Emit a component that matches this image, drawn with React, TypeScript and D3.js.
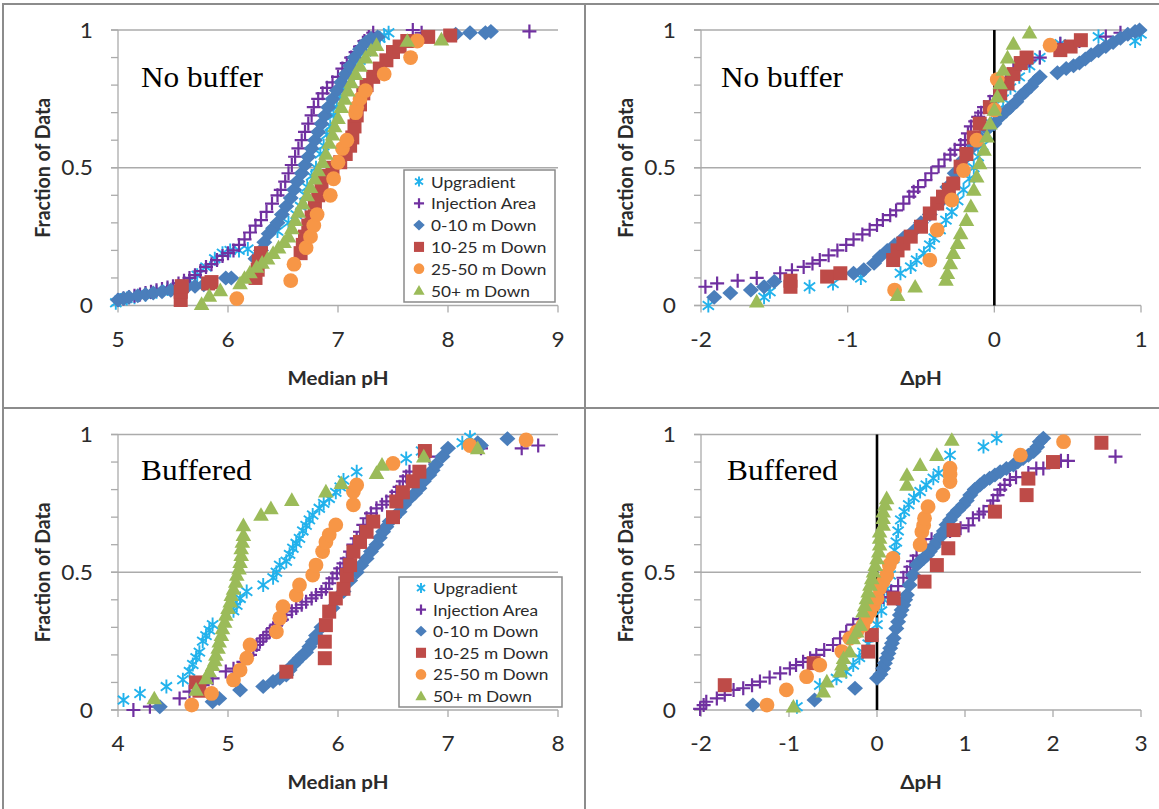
import React from 'react';
import * as d3 from 'd3';

type Pt = [number, number];

// ---------- series meta ----------
const SERIES_NAMES = ['Upgradient', 'Injection Area', '0-10 m Down', '10-25 m Down', '25-50 m Down', '50+ m Down'];
const SERIES_COLORS = ['#22b2ec', '#7030a0', '#4a7ebb', '#be4b48', '#f79646', '#9bbb59'];
const SERIES_SHAPES = ['star', 'plus', 'diamond', 'square', 'circle', 'triangle'];

const Y_TICK_VALUES = [0, 0.5, 1];
const Y_TICK_LABELS = ['0', '0.5', '1'];
const Y_MINOR_TICKS = [0, 0.1, 0.2, 0.3, 0.4, 0.5, 0.6, 0.7, 0.8, 0.9, 1];

const NB_MEDIAN_TICKS = [5, 6, 7, 8, 9];
const NB_DELTA_TICKS = [-2, -1, 0, 1];
const BUF_MEDIAN_TICKS = [4, 5, 6, 7, 8];
const BUF_DELTA_TICKS = [-2, -1, 0, 1, 2, 3];

const PANEL_LABELS = ['No buffer', 'No buffer', 'Buffered', 'Buffered'];
const X_TITLES = ['Median pH', '\u0394pH', 'Median pH', '\u0394pH'];
const Y_TITLE = 'Fraction of Data';

// ---------- Panel 1: No buffer, Median pH ----------
const nbMedUpgradient: Pt[] = [[4.98,0.01],[5.02,0.02],[5.08,0.025],[5.15,0.03],[5.25,0.04],[5.35,0.05],[5.45,0.06],[5.55,0.07],[5.65,0.09],[5.72,0.11],[5.8,0.14],[5.88,0.17],[5.95,0.19],[6.02,0.2],[6.1,0.2],[6.18,0.205],[6.45,0.27],[6.55,0.3],[6.62,0.33],[6.66,0.36],[6.7,0.4],[6.72,0.43],[6.76,0.47],[6.8,0.5],[6.84,0.55],[6.87,0.58],[6.9,0.62],[6.93,0.65],[6.96,0.69],[6.99,0.72],[7.02,0.76],[7.05,0.79],[7.1,0.83],[7.14,0.855],[7.2,0.89],[7.25,0.92],[7.32,0.95],[7.38,0.97],[7.42,0.98],[7.46,0.99]];
const nbMedInjection: Pt[] = [[5.0,0.02],[5.05,0.025],[5.1,0.03],[5.15,0.035],[5.2,0.04],[5.25,0.045],[5.3,0.05],[5.35,0.055],[5.4,0.06],[5.45,0.065],[5.5,0.07],[5.55,0.08],[5.6,0.09],[5.65,0.1],[5.7,0.11],[5.75,0.125],[5.8,0.14],[5.85,0.15],[5.9,0.165],[5.95,0.18],[6.0,0.19],[6.05,0.2],[6.1,0.22],[6.15,0.24],[6.2,0.265],[6.25,0.29],[6.3,0.31],[6.35,0.34],[6.4,0.37],[6.45,0.4],[6.48,0.42],[6.52,0.45],[6.55,0.48],[6.58,0.51],[6.61,0.54],[6.64,0.57],[6.67,0.6],[6.7,0.63],[6.73,0.66],[6.76,0.69],[6.78,0.72],[6.82,0.75],[6.86,0.77],[6.9,0.79],[6.95,0.81],[7.0,0.83],[7.04,0.86],[7.08,0.88],[7.12,0.9],[7.16,0.92],[7.2,0.94],[7.24,0.96],[7.28,0.975],[7.32,0.99],[7.68,1.0],[7.76,0.99],[8.74,0.995]];
const nbMed0to10: Pt[] = [[5.0,0.02],[5.05,0.025],[5.1,0.03],[5.18,0.035],[5.25,0.04],[5.32,0.045],[5.4,0.05],[5.48,0.055],[5.55,0.06],[5.62,0.065],[5.7,0.07],[5.78,0.075],[5.98,0.1],[6.03,0.1],[6.25,0.17],[6.3,0.2],[6.33,0.23],[6.37,0.26],[6.41,0.28],[6.45,0.3],[6.49,0.33],[6.53,0.36],[6.57,0.39],[6.6,0.42],[6.63,0.45],[6.67,0.48],[6.7,0.51],[6.73,0.54],[6.76,0.57],[6.79,0.6],[6.82,0.63],[6.85,0.66],[6.88,0.69],[6.91,0.72],[6.95,0.75],[6.99,0.78],[7.03,0.81],[7.07,0.84],[7.11,0.87],[7.15,0.9],[7.2,0.93],[7.25,0.955],[7.3,0.97],[7.36,0.975],[8.07,0.985],[8.2,0.99],[8.34,0.99],[8.39,0.995]];
const nbMed10to25: Pt[] = [[5.57,0.02],[5.57,0.05],[5.58,0.07],[5.82,0.08],[5.85,0.085],[6.25,0.1],[6.27,0.13],[6.28,0.16],[6.3,0.19],[6.66,0.19],[6.68,0.22],[6.7,0.25],[6.73,0.29],[6.76,0.32],[6.79,0.36],[6.82,0.4],[6.85,0.44],[6.88,0.47],[6.95,0.5],[7.02,0.52],[7.07,0.55],[7.11,0.58],[7.13,0.61],[7.15,0.65],[7.17,0.69],[7.2,0.73],[7.23,0.77],[7.26,0.8],[7.32,0.83],[7.38,0.86],[7.44,0.89],[7.5,0.92],[7.56,0.94],[7.63,0.96],[7.82,0.975],[8.02,0.98]];
const nbMed25to50: Pt[] = [[6.08,0.025],[6.57,0.09],[6.6,0.15],[6.71,0.21],[6.75,0.25],[6.78,0.29],[6.81,0.33],[6.93,0.4],[6.96,0.46],[7.0,0.52],[7.04,0.57],[7.08,0.6],[7.16,0.7],[7.17,0.72],[7.2,0.75],[7.25,0.78],[7.42,0.84],[7.66,0.9],[7.72,0.96]];
const nbMed50plus: Pt[] = [[5.76,0.005],[5.83,0.035],[5.93,0.055],[6.11,0.08],[6.15,0.1],[6.2,0.12],[6.26,0.14],[6.31,0.155],[6.36,0.17],[6.41,0.19],[6.46,0.21],[6.51,0.23],[6.55,0.25],[6.58,0.28],[6.61,0.31],[6.64,0.34],[6.68,0.37],[6.72,0.4],[6.75,0.43],[6.79,0.46],[6.82,0.49],[6.86,0.52],[6.89,0.55],[6.92,0.59],[6.95,0.62],[6.97,0.65],[7.0,0.68],[7.03,0.72],[7.06,0.75],[7.09,0.78],[7.12,0.81],[7.16,0.84],[7.2,0.87],[7.25,0.9],[7.3,0.925],[7.35,0.945],[7.63,0.96],[7.94,0.965]];

// ---------- Panel 2: No buffer, delta pH ----------
const nbDelUpgradient: Pt[] = [[-1.95,0.0],[-1.57,0.03],[-1.53,0.05],[-1.26,0.068],[-1.1,0.08],[-0.91,0.1],[-0.64,0.117],[-0.57,0.14],[-0.53,0.165],[-0.48,0.19],[-0.44,0.22],[-0.41,0.245],[-0.37,0.275],[-0.33,0.31],[-0.29,0.34],[-0.25,0.38],[-0.21,0.42],[-0.17,0.46],[-0.14,0.5],[-0.11,0.54],[-0.08,0.58],[-0.05,0.62],[-0.02,0.66],[0.02,0.71],[0.06,0.75],[0.11,0.79],[0.17,0.83],[0.24,0.87],[0.31,0.9],[0.45,0.95],[0.71,0.976],[0.96,0.96],[1.0,0.985]];
const nbDelInjection: Pt[] = [[-1.97,0.068],[-1.89,0.08],[-1.75,0.09],[-1.62,0.1],[-1.46,0.117],[-1.38,0.128],[-1.3,0.14],[-1.24,0.152],[-1.19,0.165],[-1.13,0.182],[-1.07,0.2],[-1.01,0.22],[-0.96,0.24],[-0.9,0.258],[-0.85,0.275],[-0.8,0.292],[-0.76,0.31],[-0.71,0.328],[-0.67,0.345],[-0.62,0.37],[-0.58,0.395],[-0.55,0.413],[-0.52,0.43],[-0.47,0.455],[-0.43,0.48],[-0.38,0.505],[-0.34,0.53],[-0.3,0.548],[-0.27,0.565],[-0.23,0.583],[-0.2,0.6],[-0.18,0.625],[-0.16,0.65],[-0.13,0.668],[-0.11,0.685],[-0.09,0.7],[-0.07,0.72],[-0.03,0.74],[0.0,0.76],[0.04,0.79],[0.08,0.82],[0.13,0.855],[0.18,0.875],[0.24,0.89],[0.31,0.9],[0.45,0.95],[0.58,0.96],[0.76,0.976],[0.86,0.99]];
const nbDel0to10: Pt[] = [[-1.91,0.03],[-1.8,0.045],[-1.66,0.056],[-1.57,0.068],[-1.5,0.087],[-0.96,0.117],[-0.89,0.13],[-0.82,0.153],[-0.78,0.177],[-0.73,0.2],[-0.68,0.22],[-0.62,0.245],[-0.55,0.27],[-0.5,0.3],[-0.44,0.33],[-0.38,0.37],[-0.32,0.43],[-0.27,0.48],[-0.21,0.53],[-0.14,0.58],[-0.1,0.61],[-0.05,0.64],[0.0,0.66],[0.04,0.685],[0.08,0.705],[0.11,0.72],[0.15,0.74],[0.18,0.76],[0.21,0.775],[0.25,0.795],[0.28,0.815],[0.31,0.83],[0.43,0.845],[0.49,0.86],[0.54,0.87],[0.58,0.88],[0.62,0.895],[0.66,0.91],[0.71,0.925],[0.76,0.94],[0.81,0.955],[0.86,0.97],[0.91,0.985],[0.96,0.995],[0.99,1.0]];
const nbDel10to25: Pt[] = [[-1.39,0.068],[-1.39,0.09],[-1.14,0.105],[-1.05,0.117],[-0.69,0.165],[-0.66,0.2],[-0.62,0.225],[-0.57,0.25],[-0.5,0.286],[-0.44,0.334],[-0.39,0.37],[-0.35,0.395],[-0.31,0.42],[-0.28,0.443],[-0.23,0.504],[-0.19,0.55],[-0.14,0.61],[-0.1,0.66],[-0.03,0.72],[0.04,0.77],[0.09,0.806],[0.13,0.84],[0.18,0.88],[0.22,0.9],[0.45,0.927],[0.52,0.94],[0.59,0.963]];
const nbDel25to50: Pt[] = [[-0.68,0.056],[-0.44,0.165],[-0.39,0.274],[-0.29,0.383],[-0.21,0.49],[-0.12,0.6],[0.0,0.71],[0.02,0.82],[0.38,0.945]];
const nbDel50plus: Pt[] = [[-1.62,0.014],[-0.66,0.038],[-0.54,0.068],[-0.33,0.093],[-0.32,0.117],[-0.3,0.153],[-0.28,0.19],[-0.25,0.226],[-0.23,0.262],[-0.19,0.31],[-0.16,0.36],[-0.14,0.42],[-0.12,0.468],[-0.1,0.516],[-0.07,0.565],[-0.05,0.613],[-0.03,0.66],[0.0,0.71],[0.02,0.758],[0.04,0.806],[0.06,0.855],[0.09,0.9],[0.13,0.95],[0.24,0.99]];

// ---------- Panel 3: Buffered, Median pH ----------
const bufMedUpgradient: Pt[] = [[4.05,0.036],[4.2,0.06],[4.44,0.085],[4.59,0.11],[4.65,0.14],[4.68,0.165],[4.71,0.19],[4.74,0.21],[4.77,0.25],[4.8,0.27],[4.83,0.29],[4.86,0.31],[5.05,0.36],[5.08,0.38],[5.11,0.405],[5.17,0.43],[5.32,0.454],[5.41,0.48],[5.44,0.5],[5.47,0.526],[5.53,0.54],[5.56,0.565],[5.59,0.587],[5.62,0.605],[5.65,0.623],[5.68,0.65],[5.71,0.67],[5.74,0.69],[5.77,0.708],[5.83,0.732],[5.87,0.75],[5.92,0.768],[5.98,0.79],[6.02,0.81],[6.05,0.835],[6.17,0.865],[6.62,0.913],[6.76,0.94],[7.13,0.97],[7.2,0.99]];
const bufMedInjection: Pt[] = [[4.14,0.0],[4.29,0.012],[4.56,0.042],[4.65,0.067],[4.77,0.09],[4.86,0.115],[4.98,0.14],[5.05,0.15],[5.14,0.175],[5.2,0.2],[5.23,0.218],[5.26,0.236],[5.29,0.248],[5.32,0.26],[5.35,0.272],[5.38,0.284],[5.41,0.297],[5.44,0.31],[5.49,0.328],[5.53,0.345],[5.58,0.358],[5.62,0.37],[5.67,0.382],[5.71,0.393],[5.76,0.405],[5.8,0.417],[5.85,0.428],[5.89,0.44],[5.92,0.46],[5.95,0.478],[5.99,0.496],[6.02,0.514],[6.05,0.532],[6.08,0.55],[6.11,0.575],[6.14,0.6],[6.17,0.623],[6.2,0.647],[6.23,0.672],[6.26,0.696],[6.3,0.714],[6.35,0.732],[6.4,0.745],[6.44,0.757],[6.49,0.775],[6.53,0.792],[6.56,0.81],[6.59,0.83],[6.62,0.848],[6.65,0.865],[6.83,0.92],[7.3,0.95],[7.67,0.95],[7.82,0.96]];
const bufMed0to10: Pt[] = [[4.38,0.012],[4.86,0.03],[4.92,0.042],[5.11,0.073],[5.32,0.085],[5.41,0.103],[5.47,0.115],[5.53,0.127],[5.56,0.145],[5.59,0.163],[5.62,0.175],[5.65,0.188],[5.68,0.2],[5.71,0.21],[5.74,0.23],[5.77,0.248],[5.8,0.27],[5.85,0.3],[5.95,0.37],[6.05,0.43],[6.11,0.47],[6.17,0.5],[6.21,0.525],[6.26,0.55],[6.3,0.575],[6.35,0.6],[6.38,0.625],[6.41,0.647],[6.44,0.665],[6.47,0.684],[6.51,0.7],[6.56,0.72],[6.6,0.745],[6.65,0.768],[6.7,0.787],[6.74,0.805],[6.78,0.83],[6.83,0.853],[6.86,0.87],[6.89,0.89],[6.95,0.92],[7.0,0.95],[7.27,0.97],[7.3,0.96],[7.54,0.985]];
const bufMed10to25: Pt[] = [[4.71,0.1],[4.74,0.07],[5.53,0.139],[5.88,0.188],[5.88,0.248],[5.89,0.308],[5.92,0.357],[5.98,0.405],[6.05,0.44],[6.08,0.49],[6.11,0.526],[6.14,0.575],[6.2,0.61],[6.26,0.647],[6.32,0.684],[6.5,0.7],[6.53,0.757],[6.59,0.79],[6.68,0.83],[6.74,0.865],[6.79,0.94]];
const bufMed25to50: Pt[] = [[4.67,0.018],[4.85,0.06],[5.05,0.109],[5.11,0.145],[5.17,0.188],[5.2,0.236],[5.44,0.284],[5.47,0.333],[5.5,0.375],[5.62,0.417],[5.65,0.454],[5.77,0.49],[5.8,0.526],[5.86,0.575],[5.89,0.61],[5.92,0.636],[5.98,0.672],[6.14,0.745],[6.14,0.793],[6.17,0.817],[6.5,0.895],[7.2,0.96],[7.71,0.98]];
const bufMed50plus: Pt[] = [[4.33,0.042],[4.71,0.073],[4.8,0.115],[4.83,0.14],[4.86,0.163],[4.88,0.18],[4.89,0.2],[4.91,0.225],[4.92,0.248],[4.94,0.272],[4.95,0.296],[4.97,0.32],[4.98,0.345],[5.0,0.37],[5.02,0.393],[5.03,0.417],[5.05,0.44],[5.07,0.465],[5.08,0.49],[5.1,0.513],[5.11,0.537],[5.12,0.562],[5.12,0.587],[5.13,0.61],[5.14,0.635],[5.14,0.67],[5.3,0.708],[5.39,0.732],[5.58,0.762],[5.89,0.793],[6.03,0.823],[6.35,0.86],[6.4,0.89],[6.78,0.92],[7.27,0.95]];

// ---------- Panel 4: Buffered, delta pH ----------
const bufDelUpgradient: Pt[] = [[-0.91,0.012],[-0.65,0.09],[-0.46,0.115],[-0.35,0.139],[-0.27,0.163],[-0.2,0.19],[-0.16,0.21],[-0.1,0.24],[-0.05,0.27],[0.0,0.31],[0.05,0.36],[0.08,0.4],[0.11,0.44],[0.15,0.49],[0.19,0.55],[0.2,0.58],[0.22,0.61],[0.24,0.65],[0.27,0.69],[0.31,0.72],[0.36,0.745],[0.42,0.77],[0.49,0.793],[0.56,0.817],[0.64,0.841],[0.7,0.86],[0.83,0.925],[1.21,0.956],[1.36,0.986]];
const bufDelInjection: Pt[] = [[-2.01,0.004],[-1.97,0.018],[-1.94,0.03],[-1.82,0.042],[-1.73,0.055],[-1.63,0.073],[-1.52,0.079],[-1.42,0.09],[-1.33,0.103],[-1.22,0.118],[-1.1,0.133],[-0.99,0.151],[-0.92,0.163],[-0.84,0.175],[-0.76,0.188],[-0.69,0.2],[-0.6,0.218],[-0.5,0.236],[-0.42,0.26],[-0.35,0.284],[-0.27,0.31],[-0.2,0.33],[-0.1,0.36],[0.0,0.39],[0.07,0.41],[0.16,0.43],[0.24,0.45],[0.3,0.48],[0.34,0.5],[0.38,0.52],[0.41,0.54],[0.45,0.56],[0.55,0.6],[0.62,0.62],[0.73,0.635],[0.83,0.65],[0.95,0.66],[1.04,0.67],[1.09,0.696],[1.16,0.71],[1.21,0.72],[1.29,0.74],[1.32,0.76],[1.37,0.78],[1.4,0.8],[1.45,0.817],[1.51,0.835],[1.58,0.845],[1.72,0.86],[1.81,0.877],[1.89,0.877],[2.09,0.905],[2.17,0.904],[2.71,0.92]];
const bufDel0to10: Pt[] = [[-1.41,0.018],[-0.71,0.036],[-0.25,0.079],[0.0,0.115],[0.04,0.13],[0.07,0.151],[0.09,0.17],[0.11,0.188],[0.13,0.205],[0.15,0.224],[0.17,0.242],[0.19,0.26],[0.22,0.296],[0.24,0.32],[0.26,0.345],[0.28,0.363],[0.3,0.381],[0.32,0.4],[0.34,0.417],[0.37,0.454],[0.41,0.49],[0.45,0.526],[0.49,0.54],[0.53,0.55],[0.57,0.563],[0.6,0.575],[0.64,0.592],[0.68,0.61],[0.72,0.63],[0.76,0.65],[0.79,0.672],[0.83,0.69],[0.87,0.708],[0.92,0.725],[0.98,0.744],[1.02,0.76],[1.06,0.78],[1.11,0.8],[1.17,0.817],[1.22,0.83],[1.28,0.841],[1.34,0.853],[1.4,0.865],[1.47,0.877],[1.55,0.889],[1.6,0.9],[1.66,0.913],[1.72,0.925],[1.78,0.938],[1.82,0.955],[1.85,0.974],[1.89,0.986]];
const bufDel10to25: Pt[] = [[-1.73,0.09],[-0.72,0.17],[-0.1,0.212],[-0.06,0.272],[0.19,0.405],[0.54,0.466],[0.68,0.526],[0.81,0.587],[0.87,0.653],[1.34,0.72],[1.7,0.78],[1.72,0.84],[2.0,0.9],[2.55,0.97]];
const bufDel25to50: Pt[] = [[-1.25,0.018],[-1.03,0.073],[-0.8,0.121],[-0.65,0.163],[-0.4,0.212],[-0.31,0.26],[-0.23,0.284],[-0.16,0.308],[-0.12,0.333],[-0.08,0.357],[-0.04,0.38],[0.0,0.405],[0.03,0.442],[0.07,0.466],[0.11,0.49],[0.14,0.526],[0.18,0.55],[0.49,0.6],[0.51,0.647],[0.53,0.67],[0.54,0.696],[0.58,0.738],[0.75,0.78],[0.83,0.829],[0.83,0.855],[0.83,0.878],[1.63,0.925],[2.12,0.974]];
const bufDel50plus: Pt[] = [[-0.95,0.012],[-0.61,0.067],[-0.57,0.103],[-0.42,0.139],[-0.4,0.165],[-0.38,0.188],[-0.31,0.212],[-0.27,0.26],[-0.23,0.284],[-0.19,0.308],[-0.16,0.357],[-0.14,0.38],[-0.12,0.405],[-0.1,0.43],[-0.08,0.454],[-0.06,0.478],[-0.04,0.502],[-0.02,0.526],[0.0,0.55],[0.02,0.575],[0.03,0.6],[0.03,0.625],[0.03,0.647],[0.07,0.672],[0.07,0.696],[0.07,0.72],[0.09,0.745],[0.11,0.768],[0.34,0.817],[0.34,0.853],[0.49,0.889],[0.68,0.925],[0.85,0.98]];

const NB_MEDIAN_SERIES = [nbMedUpgradient, nbMedInjection, nbMed0to10, nbMed10to25, nbMed25to50, nbMed50plus];
const NB_DELTA_SERIES = [nbDelUpgradient, nbDelInjection, nbDel0to10, nbDel10to25, nbDel25to50, nbDel50plus];
const BUF_MEDIAN_SERIES = [bufMedUpgradient, bufMedInjection, bufMed0to10, bufMed10to25, bufMed25to50, bufMed50plus];
const BUF_DELTA_SERIES = [bufDelUpgradient, bufDelInjection, bufDel0to10, bufDel10to25, bufDel25to50, bufDel50plus];

// ---------- layout ----------
const W = 1159;
const H = 809;
const SX = 1.08; // horizontal text stretch seen in the reference
const FONT = "Lato, 'Open Sans', sans-serif";
const TXT = '#2b2b2b';
const GRID = '#ababab';

interface Legend { x: number; y: number; w: number; h: number; mdx: number; tdx: number; row0: number; gap: number; }
interface PanelCfg {
  x0: number; x1: number; yTop: number; yBot: number;
  domain: [number, number]; ticks: number[]; series: Pt[][];
  label: string; labelX: number; labelY: number; xTitle: string; zero: boolean; legend?: Legend;
}

const PANELS: PanelCfg[] = [
  { x0: 118, x1: 558, yTop: 30, yBot: 305.5, domain: [5, 9], ticks: NB_MEDIAN_TICKS, series: NB_MEDIAN_SERIES,
    label: PANEL_LABELS[0], labelX: 141, labelY: 87, xTitle: X_TITLES[0], zero: false,
    legend: { x: 404, y: 170, w: 151, h: 132, mdx: 15, tdx: 27, row0: 181.5, gap: 21.8 } },
  { x0: 701, x1: 1141, yTop: 30, yBot: 305.5, domain: [-2, 1], ticks: NB_DELTA_TICKS, series: NB_DELTA_SERIES,
    label: PANEL_LABELS[1], labelX: 721, labelY: 87, xTitle: X_TITLES[1], zero: true },
  { x0: 118, x1: 558, yTop: 434.5, yBot: 710, domain: [4, 8], ticks: BUF_MEDIAN_TICKS, series: BUF_MEDIAN_SERIES,
    label: PANEL_LABELS[2], labelX: 141, labelY: 480, xTitle: X_TITLES[2], zero: false,
    legend: { x: 399, y: 577, w: 163, h: 130, mdx: 22, tdx: 34, row0: 588, gap: 21.6 } },
  { x0: 701, x1: 1141, yTop: 434.5, yBot: 710, domain: [-2, 3], ticks: BUF_DELTA_TICKS, series: BUF_DELTA_SERIES,
    label: PANEL_LABELS[3], labelX: 727, labelY: 480, xTitle: X_TITLES[3], zero: true },
];

function Marker({ shape, color, x, y, k = 1 }: { shape: string; color: string; x: number; y: number; k?: number }) {
  const t = `translate(${x},${y})`;
  if (shape === 'star') {
    const r = 7 * k, a = r * 0.8;
    return <path transform={t} d={`M0,${-r}V${r}M${-a},${-a * 0.75}L${a},${a * 0.75}M${-a},${a * 0.75}L${a},${-a * 0.75}`} stroke={color} strokeWidth={1.9} fill="none" />;
  }
  if (shape === 'plus') {
    const r = 7 * k;
    return <path transform={t} d={`M${-r},0H${r}M0,${-r}V${r}`} stroke={color} strokeWidth={2.2} fill="none" />;
  }
  if (shape === 'diamond') {
    const rx = 8 * k, ry = 7.5 * k;
    return <path transform={t} d={`M0,${-ry}L${rx},0L0,${ry}L${-rx},0Z`} fill={color} />;
  }
  if (shape === 'square') {
    const s = 7 * k;
    return <rect x={x - s} y={y - s} width={2 * s} height={2 * s} fill={color} />;
  }
  if (shape === 'circle') {
    return <circle cx={x} cy={y} r={7.4 * k} fill={color} />;
  }
  const r = 7.8 * k;
  return <path transform={t} d={`M0,${-r}L${r},${r * 0.75}L${-r},${r * 0.75}Z`} fill={color} />;
}

function Txt(props: { x: number; y: number; size: number; anchor?: string; weight?: string; family?: string; rotate?: number; children: React.ReactNode; fill?: string }) {
  const { x, y, size, anchor = 'start', weight = 'normal', family = FONT, rotate = 0, children, fill = TXT } = props;
  return (
    <text transform={`translate(${x},${y}) scale(${SX},1)${rotate ? ` rotate(${rotate})` : ''}`}
      fontSize={size} fontFamily={family} fontWeight={weight} textAnchor={anchor} fill={fill}>
      {children}
    </text>
  );
}

function Panel({ cfg }: { cfg: PanelCfg }) {
  const xs = d3.scaleLinear().domain(cfg.domain).range([cfg.x0, cfg.x1]);
  const ys = d3.scaleLinear().domain([0, 1]).range([cfg.yBot, cfg.yTop]);
  const cx = (cfg.x0 + cfg.x1) / 2;
  const cy = (cfg.yTop + cfg.yBot) / 2;
  return (
    <g>
      {Y_TICK_VALUES.filter(v => v > 0).map(v => (
        <line key={`g${v}`} x1={cfg.x0 - 7} x2={cfg.x1} y1={ys(v)} y2={ys(v)} stroke={GRID} strokeWidth={1.3} />
      ))}
      <line x1={cfg.x0} x2={cfg.x0} y1={ys(0)} y2={ys(1)} stroke={GRID} strokeWidth={1.3} />
      {Y_MINOR_TICKS.map(v => (
        <line key={`t${v}`} x1={cfg.x0 - 7} x2={cfg.x0} y1={ys(v)} y2={ys(v)} stroke={GRID} strokeWidth={1.3} />
      ))}
      <line x1={cfg.x0 - 7} x2={cfg.x1} y1={ys(0)} y2={ys(0)} stroke={GRID} strokeWidth={1.3} />
      {cfg.ticks.map(v => (
        <line key={`xt${v}`} x1={xs(v)} x2={xs(v)} y1={ys(0)} y2={ys(0) + 7} stroke={GRID} strokeWidth={1.3} />
      ))}
      {cfg.zero && <line x1={xs(0)} x2={xs(0)} y1={ys(0)} y2={ys(1)} stroke="#000" strokeWidth={2.6} />}
      {cfg.series.map((pts, si) => (
        <g key={`s${si}`}>
          {pts.map((p, i) => (
            <Marker key={i} shape={SERIES_SHAPES[si]} color={SERIES_COLORS[si]} x={xs(p[0])} y={ys(p[1])} />
          ))}
        </g>
      ))}
      {Y_TICK_VALUES.map((v, i) => (
        <Txt key={`yl${v}`} x={cfg.x0 - 25} y={ys(v) + 7.5} size={21} anchor="end">{Y_TICK_LABELS[i]}</Txt>
      ))}
      {cfg.ticks.map(v => (
        <Txt key={`xl${v}`} x={xs(v)} y={ys(0) + 41} size={21} anchor="middle">{String(v)}</Txt>
      ))}
      <Txt x={cx} y={ys(0) + 79} size={19} anchor="middle" weight="bold">{cfg.xTitle}</Txt>
      <Txt x={cfg.x0 - 68} y={cy} size={19.5} anchor="middle" weight="bold" rotate={-90}>{Y_TITLE}</Txt>
      <Txt x={cfg.labelX} y={cfg.labelY} size={29} family="'Liberation Serif', 'Times New Roman', serif" fill="#000">{cfg.label}</Txt>
      {cfg.legend && (
        <g>
          <rect x={cfg.legend.x} y={cfg.legend.y} width={cfg.legend.w} height={cfg.legend.h} fill="#fff" stroke="#8a8a8a" strokeWidth={1.5} />
          {SERIES_NAMES.map((name, i) => {
            const ly = cfg.legend!.row0 + i * cfg.legend!.gap;
            return (
              <g key={name}>
                <Marker shape={SERIES_SHAPES[i]} color={SERIES_COLORS[i]} x={cfg.legend!.x + cfg.legend!.mdx} y={ly} k={0.72} />
                <Txt x={cfg.legend!.x + cfg.legend!.tdx} y={ly + 6} size={16}>{name}</Txt>
              </g>
            );
          })}
        </g>
      )}
    </g>
  );
}

export default function App() {
  return (
    <svg width={W} height={H} viewBox={`0 0 ${W} ${H}`} style={{ position: 'absolute', left: 0, top: 0, background: '#fff' }}>
      <rect x={0} y={0} width={W} height={H} fill="#fff" />
      {PANELS.map((p, i) => <Panel key={i} cfg={p} />)}
      <g stroke="#8c8c8c" strokeWidth={2} fill="none">
        <line x1={2} x2={W} y1={4} y2={4} />
        <line x1={3} x2={3} y1={4} y2={H} />
        <line x1={585} x2={585} y1={4} y2={H} />
        <line x1={3} x2={W} y1={408} y2={408} />
      </g>
    </svg>
  );
}
